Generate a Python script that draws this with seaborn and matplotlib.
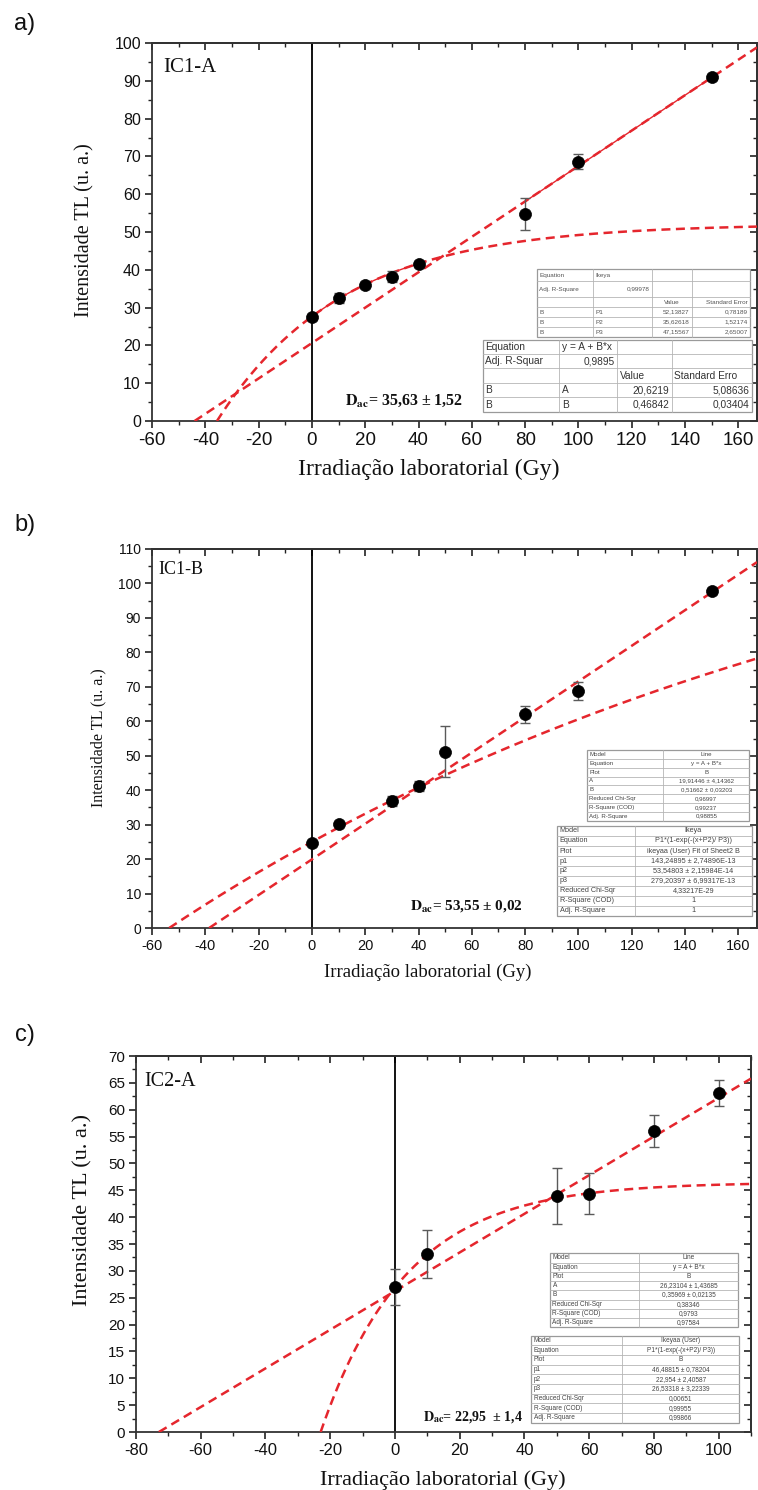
import numpy as np
import pandas as pd
import matplotlib
matplotlib.use("Agg")
import matplotlib.pyplot as plt
import seaborn as sns
from matplotlib.lines import Line2D
from matplotlib.patches import Rectangle
from matplotlib.ticker import MultipleLocator

# ---------------- data ----------------
dose_a = [0, 10, 20, 30, 40, 80, 100, 150]
tl_a = [27.6, 32.5, 36.0, 38.2, 41.5, 54.8, 68.6, 90.9]
err_a = [0.8, 1.3, 0.8, 1.5, 0.8, 4.3, 2.0, 0.8]
line_a = [20.6219, 0.46842]                    # A, B
ikeya_a = [52.13827, 35.62618, 47.15567]       # P1, P2, P3

dose_b = [0, 10, 30, 40, 50, 80, 100, 150]
tl_b = [24.8, 30.1, 36.9, 41.3, 51.2, 62.0, 68.8, 97.8]
err_b = [0.5, 0.6, 1.5, 1.5, 7.3, 2.4, 2.7, 1.0]
line_b = [19.91446, 0.51662]
ikeya_b = [143.24895, 53.54803, 279.20397]

dose_c = [0, 10, 50, 60, 80, 100]
tl_c = [27.0, 33.1, 44.0, 44.4, 56.1, 63.1]
err_c = [3.4, 4.5, 5.2, 3.8, 3.0, 2.4]
line_c = [26.23104, 0.35969]
ikeya_c = [46.48815, 22.954, 26.53318]

samples = ["IC1-A", "IC1-B", "IC2-A"]
dac_labels = ["35,63 \u00b1 1,52", "53,55 \u00b1 0,02", "22,95  \u00b1 1,4"]
xlabel = "Irradia\u00e7\u00e3o laboratorial (Gy)"
ylabel = "Intensidade TL (u. a.)"

tab_a_lin = [["Equation", "y = A + B*x", "", ""],
             ["Adj. R-Squar", "0,9895", "", ""],
             ["", "", "Value", "Standard Erro"],
             ["B", "A", "20,6219", "5,08636"],
             ["B", "B", "0,46842", "0,03404"]]
tab_a_ike = [["Equation", "Ikeya", "", ""],
             ["Adj. R-Square", "0,99978", "", ""],
             ["", "", "Value", "Standard Error"],
             ["B", "P1", "52,13827", "0,78189"],
             ["B", "P2", "35,62618", "1,52174"],
             ["B", "P3", "47,15567", "2,65007"]]
tab_b_lin = [["Model", "Line"], ["Equation", "y = A + B*x"], ["Plot", "B"],
             ["A", "19,91446 \u00b1 4,14362"], ["B", "0,51662 \u00b1 0,03203"],
             ["Reduced Chi-Sqr", "0,96997"], ["R-Square (COD)", "0,99237"],
             ["Adj. R-Square", "0,98855"]]
tab_b_ike = [["Model", "Ikeya"], ["Equation", "P1*(1-exp(-(x+P2)/ P3))"],
             ["Plot", "ikeyaa (User) Fit of Sheet2 B"],
             ["p1", "143,24895 \u00b1 2,74896E-13"], ["p2", "53,54803 \u00b1 2,15984E-14"],
             ["p3", "279,20397 \u00b1 6,99317E-13"], ["Reduced Chi-Sqr", "4,33217E-29"],
             ["R-Square (COD)", "1"], ["Adj. R-Square", "1"]]
tab_c_lin = [["Model", "Line"], ["Equation", "y = A + B*x"], ["Plot", "B"],
             ["A", "26,23104 \u00b1 1,43685"], ["B", "0,35969 \u00b1 0,02135"],
             ["Reduced Chi-Sqr", "0,38346"], ["R-Square (COD)", "0,9793"],
             ["Adj. R-Square", "0,97584"]]
tab_c_ike = [["Model", "Ikeyaa (User)"], ["Equation", "P1*(1-exp(-(x+P2)/ P3))"],
             ["Plot", "B"], ["p1", "46,48815 \u00b1 0,78204"], ["p2", "22,954 \u00b1 2,40587"],
             ["p3", "26,53318 \u00b1 3,22339"], ["Reduced Chi-Sqr", "0,00651"],
             ["R-Square (COD)", "0,99955"], ["Adj. R-Square", "0,99866"]]

# ---------------- style ----------------
sns.set_theme(style="ticks")
plt.rcParams["font.family"] = ["Liberation Sans", "DejaVu Sans"]
plt.rcParams["mathtext.fontset"] = "stix"
plt.rcParams["axes.unicode_minus"] = False
SERIF = ["Liberation Serif", "DejaVu Serif"]
SANS = ["Liberation Sans", "DejaVu Sans"]
RED = "#e5262d"

W, H = 758, 1490
fig = plt.figure(figsize=(W / 100, H / 100), dpi=100)
fig.patch.set_facecolor("white")


def fx(x):
    return x / W


def fy(y):
    return 1 - y / H


def add_axes(l, t, r, b):
    return fig.add_axes([fx(l), fy(b), (r - l) / W, (b - t) / H])


def ikeya(x, p):
    return p[0] * (1 - np.exp(-(x + p[1]) / p[2]))


def linear(x, p):
    return p[0] + p[1] * x


def draw_table(cols, rows, cells, aligns, fs, color, edge="#b5b5b5"):
    x0, x1 = cols[0], cols[-1]
    y0, y1 = rows[0], rows[-1]
    fig.add_artist(Rectangle((fx(x0), fy(y1)), (x1 - x0) / W, (y1 - y0) / H,
                             transform=fig.transFigure, facecolor="white",
                             edgecolor="#9a9a9a", lw=0.9, zorder=5))
    for c in cols[1:-1]:
        fig.add_artist(Line2D([fx(c), fx(c)], [fy(y0), fy(y1)], transform=fig.transFigure,
                              color=edge, lw=0.6, zorder=6))
    for r in rows[1:-1]:
        fig.add_artist(Line2D([fx(x0), fx(x1)], [fy(r), fy(r)], transform=fig.transFigure,
                              color=edge, lw=0.6, zorder=6))
    for i, row in enumerate(cells):
        yc = (rows[i] + rows[i + 1]) / 2
        for j, txt in enumerate(row):
            if not txt:
                continue
            a = aligns[i][j]
            if a == "l":
                x, ha = cols[j] + 2.5, "left"
            elif a == "r":
                x, ha = cols[j + 1] - 2.5, "right"
            else:
                x, ha = (cols[j] + cols[j + 1]) / 2, "center"
            fig.text(fx(x), fy(yc), txt, ha=ha, va="center", fontsize=fs,
                     color=color, family=SANS, zorder=7)


def style_axes(ax, xlim, ylim, xmaj, xmin, ymaj, ymin, xfs, yfs):
    ax.set_xlim(xlim)
    ax.set_ylim(ylim)
    ax.xaxis.set_major_locator(MultipleLocator(xmaj))
    ax.xaxis.set_minor_locator(MultipleLocator(xmin))
    ax.yaxis.set_major_locator(MultipleLocator(ymaj))
    ax.yaxis.set_minor_locator(MultipleLocator(ymin))
    ax.tick_params(axis="both", which="major", direction="out", length=5, width=1.2,
                   color="#222222", top=False, right=False)
    ax.tick_params(axis="both", which="minor", direction="out", length=3, width=1.0,
                   color="#222222", top=False, right=False)
    ax.tick_params(axis="x", labelsize=xfs, pad=3)
    ax.tick_params(axis="y", labelsize=yfs, pad=3)
    for lab in ax.get_xticklabels() + ax.get_yticklabels():
        lab.set_family(SANS)
        lab.set_color("#111111")
    for sp in ax.spines.values():
        sp.set_visible(True)
        sp.set_linewidth(1.3)
        sp.set_color("#333333")
    ax.set_xlabel("")
    ax.set_ylabel("")
    top = ax.secondary_xaxis("top")
    top.xaxis.set_major_locator(MultipleLocator(xmaj))
    top.xaxis.set_minor_locator(MultipleLocator(xmin))
    top.tick_params(which="major", direction="in", length=5, width=1.2, labeltop=False, color="#222222")
    top.tick_params(which="minor", direction="in", length=3, width=1.0, color="#222222")
    top.spines["top"].set_linewidth(1.3)
    right = ax.secondary_yaxis("right")
    right.yaxis.set_major_locator(MultipleLocator(ymaj))
    right.yaxis.set_minor_locator(MultipleLocator(ymin))
    right.tick_params(which="major", direction="in", length=5, width=1.2, labelright=False, color="#222222")
    right.tick_params(which="minor", direction="in", length=3, width=1.0, color="#222222")
    right.spines["right"].set_linewidth(1.3)


def draw_panel(ax, dose, tl, err, plin, pike, xmax, solid_ranges=None):
    df = pd.DataFrame({"dose": dose, "tl": tl, "err": err})
    ax.axvline(0, color="black", lw=1.3, zorder=2)
    xl = np.linspace(-plin[0] / plin[1], xmax, 300)
    xi = np.linspace(-pike[1], xmax, 400)
    dash = dict(color=RED, lw=1.8, dashes=(3.6, 2.2), zorder=3)
    ax.plot(xl, linear(xl, plin), **dash)
    ax.plot(xi, ikeya(xi, pike), **dash)
    if solid_ranges:
        (a0, a1), (b0, b1) = solid_ranges
        xs = np.linspace(a0, a1, 100)
        ax.plot(xs, ikeya(xs, pike), color=RED, lw=1.0, zorder=3)
        xs = np.linspace(b0, b1, 100)
        ax.plot(xs, linear(xs, plin), color=RED, lw=1.0, zorder=3)
    ax.errorbar(df["dose"], df["tl"], yerr=df["err"], fmt="none", ecolor="#5a5a5a",
                elinewidth=1.0, capsize=3.5, capthick=1.0, zorder=4)
    sns.scatterplot(data=df, x="dose", y="tl", ax=ax, color="black", s=75,
                    edgecolor="black", linewidth=0.5, zorder=5, legend=False)


# ---------------- panel a ----------------
ax_a = add_axes(152, 43, 757, 421)
draw_panel(ax_a, dose_a, tl_a, err_a, line_a, ikeya_a, 167, solid_ranges=((0, 40), (80, 150)))
style_axes(ax_a, (-60, 167), (0, 100), 20, 10, 10, 5, 13.5, 11.5)

# ---------------- panel b ----------------
ax_b = add_axes(152, 549, 757, 928)
draw_panel(ax_b, dose_b, tl_b, err_b, line_b, ikeya_b, 167)
style_axes(ax_b, (-60, 167), (0, 110), 20, 10, 10, 5, 10.5, 10)

# ---------------- panel c ----------------
ax_c = add_axes(136, 1056, 751, 1432)
draw_panel(ax_c, dose_c, tl_c, err_c, line_c, ikeya_c, 110)
style_axes(ax_c, (-80, 110), (0, 70), 20, 10, 5, 2.5, 12, 11)

# ---------------- labels ----------------
for txt, (x, y) in zip(["a)", "b)", "c)"], [(25, 24), (25, 525), (25, 1035)]):
    fig.text(fx(x), fy(y), txt, ha="center", va="center", fontsize=17, family=SANS, color="#111111")

for (x, y), fs in zip([(85, 230), (98, 738), (83, 1210)], [14.5, 11.6, 16]):
    fig.text(fx(x), fy(y), ylabel, rotation=90, ha="center", va="center", fontsize=fs,
             family=SERIF, color="#111111")
for (x, y), fs in zip([(429, 469), (428, 972), (443, 1480)], [17, 13.5, 16]):
    fig.text(fx(x), fy(y), xlabel, ha="center", va="center", fontsize=fs,
             family=SERIF, color="#111111")

for txt, (x, y), fs in zip(samples, [(163, 67), (158, 569), (144, 1082)], [15, 13, 14.5]):
    fig.text(fx(x), fy(y), txt, ha="left", va="center", fontsize=fs, family=SERIF, color="#111111")

for txt, (x, y), fs in zip(dac_labels, [(345, 401), (410, 906), (423, 1417)], [11.5, 11, 10]):
    fig.text(fx(x), fy(y), r"$\mathbf{D}_{\mathbf{ac}}$= " + txt, ha="left", va="center",
             fontsize=fs, family=SERIF, fontweight="bold", color="#111111")

# ---------------- tables ----------------
al4_ike = [["l", "l", "l", "l"], ["l", "r", "l", "l"], ["l", "l", "c", "r"],
           ["l", "l", "r", "r"], ["l", "l", "r", "r"], ["l", "l", "r", "r"]]
draw_table([536.7, 593.3, 651.7, 691.7, 750], [269, 281, 297, 307, 317, 327, 337],
           tab_a_ike, al4_ike, 4.6, "#555555")
al4_lin = [["l", "l", "l", "l"], ["l", "r", "l", "l"], ["l", "l", "l", "l"],
           ["l", "l", "r", "r"], ["l", "l", "r", "r"]]
draw_table([482.7, 559.3, 617.3, 671.7, 751.7], [340, 354, 368.3, 383.3, 397.3, 412],
           tab_a_lin, al4_lin, 7.3, "#333333")

al2_8 = [["l", "c"]] * 8
al2_9 = [["l", "c"]] * 9
draw_table([586.7, 663.3, 749.3], list(np.linspace(750, 820.7, 9)), tab_b_lin, al2_8, 4.4, "#444444")
draw_table([557, 635, 751.7], list(np.linspace(826, 916, 10)), tab_b_ike, al2_9, 5.2, "#444444")
draw_table([550, 639.3, 738.3], list(np.linspace(1253.3, 1327.3, 9)), tab_c_lin, al2_8, 4.7, "#444444")
draw_table([531, 622.3, 739.3], list(np.linspace(1335.7, 1422.7, 10)), tab_c_ike, al2_9, 4.7, "#444444")

fig.savefig("out.png", dpi=100, facecolor="white")
